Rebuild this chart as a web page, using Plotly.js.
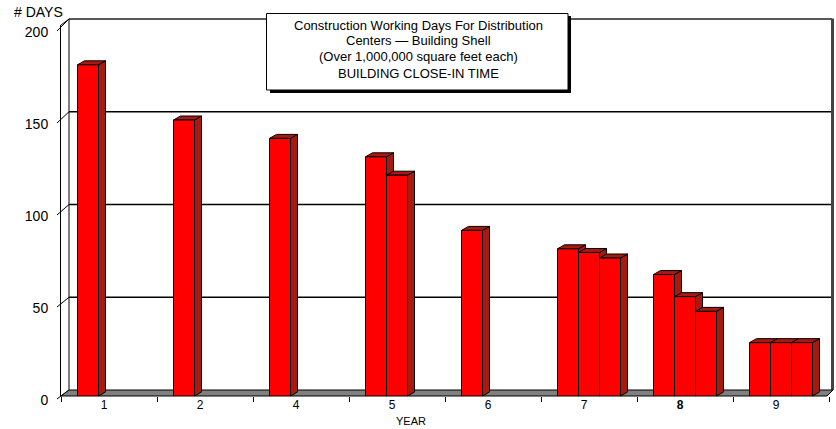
<!DOCTYPE html>
<html><head><meta charset="utf-8">
<script src="https://cdn.plot.ly/plotly-3.0.1.min.js"></script>
<style>html,body{margin:0;padding:0;background:#fff}</style>
</head><body><div id="chart" style="width:836px;height:429px"></div>
<script>
// ---- data ----
const years = ['1','2','4','5','6','7','8','9'];
const yearLabels = ['1','2','4','5','6','7','<b>8</b>','9'];
const seriesA = [180,150,140,130,90,80,66,29];
const seriesB = [null,null,null,120,null,78,54,29];
const seriesC = [null,null,null,null,null,75,46,29];
const yTicks = [0,50,100,150,200];
const titleLines = ['Construction Working Days For Distribution','Centers \u2014 Building Shell','(Over 1,000,000 square feet each)','BUILDING CLOSE-IN TIME'];
const yLabel = '# DAYS';
const xLabel = 'YEAR';

// ---- geometry ----
const W = 836, H = 429;
const M = {l:61, r:7, t:25, b:33};
const PW = W - M.l - M.r, PH = H - M.t - M.b;
const YMAX = 201.63;
const BARGAP = 1 - 63/96;
const NS = 3;
const RED = '#ff0000', DARK = '#a61a10';
const px2x = p => (p - M.l) / PW;
const py2y = p => (H - M.b - p) / PH;
const BDX = 7 / PW, BDY = 4 / PH;          // bar depth in paper units
const backY = v => 390 - v * (371/200);   // back wall pixel y
const BACK_L = 69, BACK_R = 832;

const shapes = [];
function line(x0,y0,x1,y1,color,w,layer){
  shapes.push({type:'line',xref:'paper',yref:'paper',x0:px2x(x0),y0:py2y(y0),x1:px2x(x1),y1:py2y(y1),
    line:{color:color,width:w},layer:layer||'below'});
}
function poly(pts,fill,lw,layer){
  const d = pts.map((p,i)=>(i?'L':'M')+p[0]+','+p[1]).join(' ')+' Z';
  shapes.push({type:'path',xref:'paper',yref:'paper',path:d,fillcolor:fill,
    line:{color:'#000',width:lw},layer:layer||'below'});
}
// back wall gridlines
yTicks.forEach(v=>{ if(v>0 && v<200) line(BACK_L, backY(v), BACK_R, backY(v), '#000', 1.3); });
line(BACK_L, backY(200), BACK_R, backY(200), '#222', 1.3);
line(BACK_L, backY(200), BACK_L, backY(0), '#000', 1);
line(BACK_R+0.5, backY(200)-0.5, BACK_R+0.5, backY(0), '#444', 3);
// left wall diagonals / ticks
line(61, 25, BACK_L, backY(200), '#000', 1);
yTicks.forEach(v=>{
  const fy = H - M.b - v/YMAX*PH;
  line(57, fy+3, BACK_L, backY(v), '#000', 1);
});
// floor
poly([[px2x(61),py2y(396)],[px2x(827),py2y(396)],[px2x(BACK_R+1),py2y(backY(0))],[px2x(BACK_L),py2y(backY(0))]],'#808080',1);
// bar depth faces
const bw = (1-BARGAP)/NS;
[seriesA,seriesB,seriesC].forEach((s,k)=>{
  s.forEach((v,i)=>{
    if(v==null) return;
    const xl = (i - (1-BARGAP)/2 + k*bw + 0.5)/years.length;
    const xr = xl + bw/years.length;
    const yv = v/YMAX;
    poly([[xr,0],[xr+BDX,BDY],[xr+BDX,yv+BDY],[xr,yv]],DARK,1);
    poly([[xl,yv],[xr,yv],[xr+BDX,yv+BDY],[xl+BDX,yv+BDY]],DARK,1);
  });
});
// title box with shadow
shapes.push({type:'rect',xref:'paper',yref:'paper',x0:px2x(270),x1:px2x(571),y0:py2y(16),y1:py2y(93),
  fillcolor:'#000',line:{width:0},layer:'above'});
shapes.push({type:'rect',xref:'paper',yref:'paper',x0:px2x(266.5),x1:px2x(568),y0:py2y(13.5),y1:py2y(90),
  fillcolor:'#fff',line:{color:'#000',width:1},layer:'above'});

const mk = (s)=>({type:'bar',x:years,y:s,marker:{color:RED,line:{color:'#000',width:1}},hoverinfo:'skip',cliponaxis:false});
const data = [mk(seriesA),mk(seriesB),mk(seriesC)];

const titleAnn = titleLines.map((t,i)=>({xref:'paper',yref:'paper',x:px2x(418),y:py2y(25+16*i),xanchor:'center',yanchor:'middle',
  showarrow:false,text:t,font:{size:13}}));

const font = {family:'"Liberation Sans", Arial, sans-serif', size:13, color:'#000'};
const layout = {
  width:W, height:H, margin:M, showlegend:false,
  paper_bgcolor:'#fff', plot_bgcolor:'rgba(0,0,0,0)',
  barmode:'group', bargap:BARGAP, bargroupgap:0,
  font:font,
  xaxis:{type:'category', categoryorder:'array', categoryarray:years, tickmode:'array', tickvals:years, ticktext:yearLabels,
    tickson:'boundaries', ticks:'outside', ticklen:5, tickcolor:'#000', showgrid:false, zeroline:false, showline:false,
    ticklabelshift:-5, tickfont:{size:12}, range:[-0.5,7.5], fixedrange:true},
  yaxis:{range:[0,YMAX], tickvals:yTicks, ticks:'', showgrid:false, zeroline:false, showline:true, linecolor:'#000', linewidth:1,
    ticklabelstandoff:9, ticklabelshift:4, tickfont:{size:14}, fixedrange:true},
  shapes:shapes,
  annotations:titleAnn.concat([
    {xref:'paper',yref:'paper',x:px2x(12),y:py2y(12),xanchor:'left',yanchor:'middle',showarrow:false,text:yLabel,font:{size:14}},
    {xref:'paper',yref:'paper',x:px2x(411),y:py2y(421),xanchor:'center',yanchor:'middle',showarrow:false,text:xLabel,font:{size:11}}
  ])
};
Plotly.newPlot('chart', data, layout, {staticPlot:true, displayModeBar:false});
</script></body></html>
